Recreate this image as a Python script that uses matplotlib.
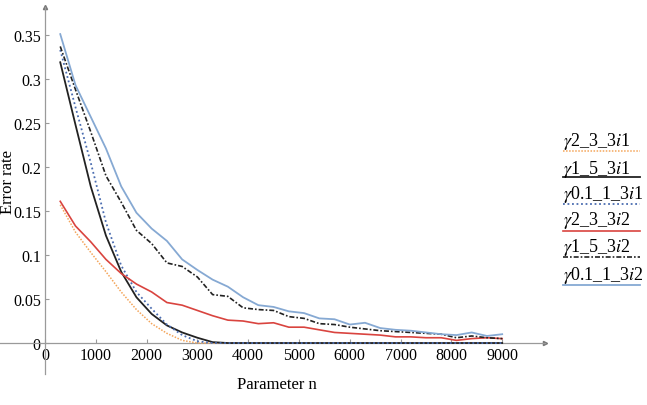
import numpy as np
import matplotlib
matplotlib.use("Agg")
from matplotlib import pyplot as plt
from matplotlib.lines import Line2D

plt.rcParams['font.family'] = ['Liberation Serif', 'DejaVu Serif']
plt.rcParams['mathtext.fontset'] = 'stix'

# data
n = [300, 600, 900, 1200, 1500, 1800, 2100, 2400, 2700, 3000,
     3300, 3600, 3900, 4200, 4500, 4800, 5100, 5400, 5700, 6000,
     6300, 6600, 6900, 7200, 7500, 7800, 8100, 8400, 8700, 9000]

g2_i1 = [0.157, 0.126, 0.103, 0.081, 0.058, 0.038, 0.022, 0.011, 0.003, 0.0,
         0, 0, 0, 0, 0, 0, 0, 0, 0, 0,
         0, 0, 0, 0, 0, 0, 0, 0, 0, 0]
g1_i1 = [0.319, 0.248, 0.178, 0.122, 0.081, 0.052, 0.033, 0.020, 0.012, 0.006,
         0.001, 0, 0, 0, 0, 0, 0, 0, 0, 0,
         0, 0, 0, 0, 0, 0, 0, 0, 0, 0]
g01_i1 = [0.333, 0.268, 0.205, 0.137, 0.088, 0.058, 0.039, 0.021, 0.009, 0.002,
          0, 0, 0, 0, 0, 0, 0, 0, 0, 0,
          0, 0, 0, 0, 0, 0, 0, 0, 0, 0]
g2_i2 = [0.161, 0.133, 0.115, 0.095, 0.079, 0.067, 0.058, 0.046, 0.043, 0.037,
         0.031, 0.026, 0.025, 0.022, 0.023, 0.018, 0.018, 0.015, 0.012, 0.011,
         0.010, 0.009, 0.007, 0.007, 0.006, 0.006, 0.003, 0.005, 0.006, 0.005]
g1_i2 = [0.337, 0.288, 0.240, 0.190, 0.160, 0.128, 0.113, 0.091, 0.087, 0.075,
         0.055, 0.053, 0.040, 0.038, 0.037, 0.030, 0.028, 0.022, 0.021, 0.018,
         0.016, 0.014, 0.013, 0.012, 0.011, 0.010, 0.006, 0.008, 0.006, 0.005]
g01_i2 = [0.351, 0.293, 0.257, 0.221, 0.178, 0.148, 0.130, 0.116, 0.095, 0.083,
          0.072, 0.064, 0.052, 0.043, 0.041, 0.036, 0.034, 0.028, 0.027, 0.021,
          0.023, 0.017, 0.015, 0.014, 0.012, 0.010, 0.009, 0.012, 0.008, 0.010]

labels = [r'$\gamma$2_3_3$i$1', r'$\gamma$1_5_3$i$1', r'$\gamma$0.1_1_3$i$1',
          r'$\gamma$2_3_3$i$2', r'$\gamma$1_5_3$i$2', r'$\gamma$0.1_1_3$i$2']
series = [g2_i1, g1_i1, g01_i1, g2_i2, g1_i2, g01_i2]
styles = [dict(color='#f4a55a', ls=(0, (1, 1)), lw=1.1),
          dict(color='#222222', ls='-', lw=1.3),
          dict(color='#4a6cb0', ls=(0, (1, 1.5)), lw=1.3),
          dict(color='#d9443f', ls='-', lw=1.2),
          dict(color='#222222', ls=(0, (3, 1.2, 1, 1.2)), lw=1.2),
          dict(color='#86a9d3', ls='-', lw=1.3)]

fig = plt.figure(figsize=(6.47, 4.06), dpi=100)
ax = fig.add_axes([0, 31 / 406, 545 / 647, 367 / 406])

for y, st in zip(series, styles):
    ax.plot(n, y, **st, zorder=3)

ax.set_xlim(-886, 9843)
ax.set_ylim(-0.0352, 0.3818)
ax.set_xticks(range(0, 9001, 1000))
ax.set_yticks([0, 0.05, 0.1, 0.15, 0.2, 0.25, 0.3, 0.35])
ax.set_yticklabels(['0', '0.05', '0.1', '0.15', '0.2', '0.25', '0.3', '0.35'])

for side in ['top', 'right']:
    ax.spines[side].set_visible(False)
for side in ['left', 'bottom']:
    ax.spines[side].set_position(('data', 0))
    ax.spines[side].set_color('#9a9a9a')
    ax.spines[side].set_linewidth(0.9)
ax.tick_params(direction='in', length=3, width=0.8, color='#9a9a9a',
               labelsize=11.5, pad=3)
ax.set_facecolor('none')

# arrow heads on the axes
ax.plot(1, 0, '>', color='#777777', ms=3, transform=ax.get_yaxis_transform(), clip_on=False)
ax.plot(0, 1, '^', color='#777777', ms=3, transform=ax.get_xaxis_transform(), clip_on=False)

fig.text(0.428, 0.052, 'Parameter n', fontsize=12, ha='center', va='center')
fig.text(0.013, 0.552, 'Error rate', fontsize=12, rotation=90, ha='center', va='center')

# legend on the right
text_y = [141, 170, 195, 221, 248, 275]
line_y = [152, 178, 205, 232, 258, 286]
for lab, st, ty, ly in zip(labels, styles, text_y, line_y):
    fig.text(563 / 647, 1 - ty / 406, lab, fontsize=13, ha='left', va='center')
    fig.add_artist(Line2D([563 / 647, 640 / 647], [1 - ly / 406, 1 - ly / 406],
                          transform=fig.transFigure, **st))

plt.savefig("out.png", dpi=100)
